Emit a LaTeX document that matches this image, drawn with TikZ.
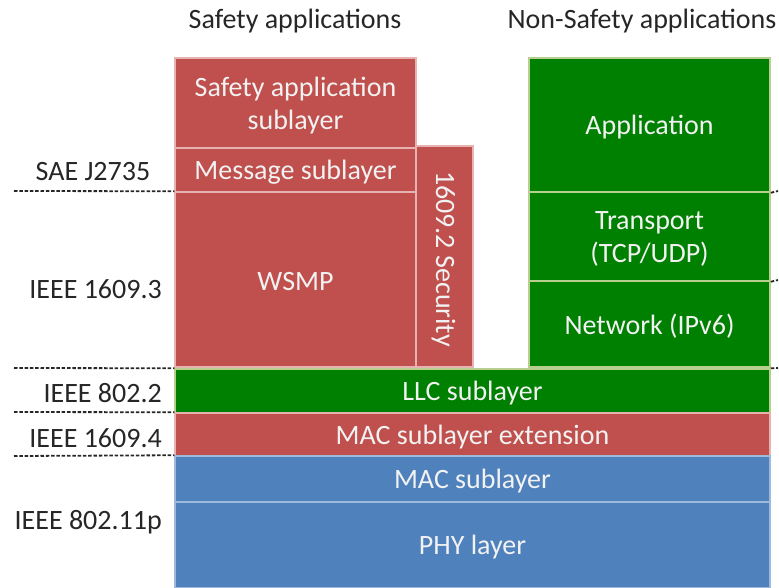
\documentclass[tikz,border=0pt]{standalone}
\usepackage{fontspec}
\setmainfont{Carlito}
\definecolor{rfill}{HTML}{C0504D}
\definecolor{rline}{HTML}{E6B3B1}
\definecolor{gfill}{HTML}{008000}
\definecolor{gline}{HTML}{B8CF8F}
\definecolor{bfill}{HTML}{4F81BD}
\definecolor{bline}{HTML}{9DB9DC}
\definecolor{txt}{HTML}{262626}
\begin{document}
\begin{tikzpicture}[x=1pt,y=-1pt,
  boxtext/.style={inner sep=0pt, text=white!95!black, align=center,
    font=\fontsize{28}{33}\selectfont, yshift=-2.5pt},
  box/.style={rectangle, inner sep=0pt, line width=1.5pt,
    label={[boxtext]center:#1}},
  redbox/.style={box=#1, fill=rfill, draw=rline},
  greenbox/.style={box=#1, fill=gfill, draw=gline},
  bluebox/.style={box=#1, fill=bfill, draw=bline},
  lbl/.style={inner sep=0pt, text=txt, font=\fontsize{28}{33}\selectfont},
  dashline/.style={draw=black!85, line width=1.8pt, dash pattern=on 3.5pt off 1.8pt}]
\useasboundingbox (0,0) rectangle (779,587);
% headers
\node[lbl] (hs) at (295,21) {Safety applications};
\node[lbl] (hn) at (642,21) {Non-Safety applications};
% safety stack
\node[redbox={Safety application\\sublayer}, minimum width=241pt, minimum height=90pt] (sas) at (295.5,103) {};
\node[redbox={Message sublayer}, minimum width=241pt, minimum height=44pt] (msg) at (295.5,170) {};
\node[redbox={WSMP}, minimum width=241pt, minimum height=175pt] (wsmp) at (295.5,279.5) {};
\node[redbox={}, minimum width=57pt, minimum height=221pt] (sec) at (444.5,256.5) {};
\node[boxtext, rotate=-90, yshift=0pt] (sectxt) at ([xshift=-1pt]sec.center) {1609.2 Security};
% non-safety stack
\node[greenbox={Application}, minimum width=241pt, minimum height=134pt] (app) at (649.5,125) {};
\node[greenbox={Transport\\(TCP/UDP)}, minimum width=241pt, minimum height=89pt] (tra) at (649.5,236.5) {};
\node[greenbox={Network (IPv6)}, minimum width=241pt, minimum height=86pt] (net) at (649.5,324) {};
% common layers
\node[greenbox={LLC sublayer}, minimum width=595pt, minimum height=44pt] (llc) at (472.5,391) {};
\node[redbox={MAC sublayer extension}, minimum width=595pt, minimum height=43pt] (macx) at (472.5,434.5) {};
\node[bluebox={MAC sublayer}, minimum width=595pt, minimum height=46pt] (mac) at (472.5,479) {};
\node[bluebox={PHY layer}, minimum width=595pt, minimum height=86pt] (phy) at (472.5,545) {};
% left labels
\node[lbl] (lsae) at (93,172) {SAE J2735};
\node[lbl, anchor=east] (l13) at (162,289) {IEEE 1609.3};
\node[lbl, anchor=east] (l22) at (162,393) {IEEE 802.2};
\node[lbl, anchor=east] (l14) at (162,438) {IEEE 1609.4};
\node[lbl, anchor=east] (l11) at (162,522) {IEEE 802.11p};
% dashed separators
\coordinate (d1) at (14,191);
\coordinate (d2) at (14,368);
\coordinate (d3) at (14,412);
\coordinate (d4) at (14,456);
\draw[dashline] (d1) -- (wsmp.north west);
\draw[dashline] (d2) -- (llc.north west);
\draw[dashline] (d3) -- (macx.north west);
\draw[dashline] (d4) -- (mac.north west);
\coordinate (r1) at (778,191);
\coordinate (r2) at (778,280);
\coordinate (r3) at (778,368);
\draw[dashline] (app.south east) -- (r1);
\draw[dashline] (tra.south east) -- (r2);
\draw[dashline] (llc.north east) -- (r3);
\end{tikzpicture}
\end{document}
